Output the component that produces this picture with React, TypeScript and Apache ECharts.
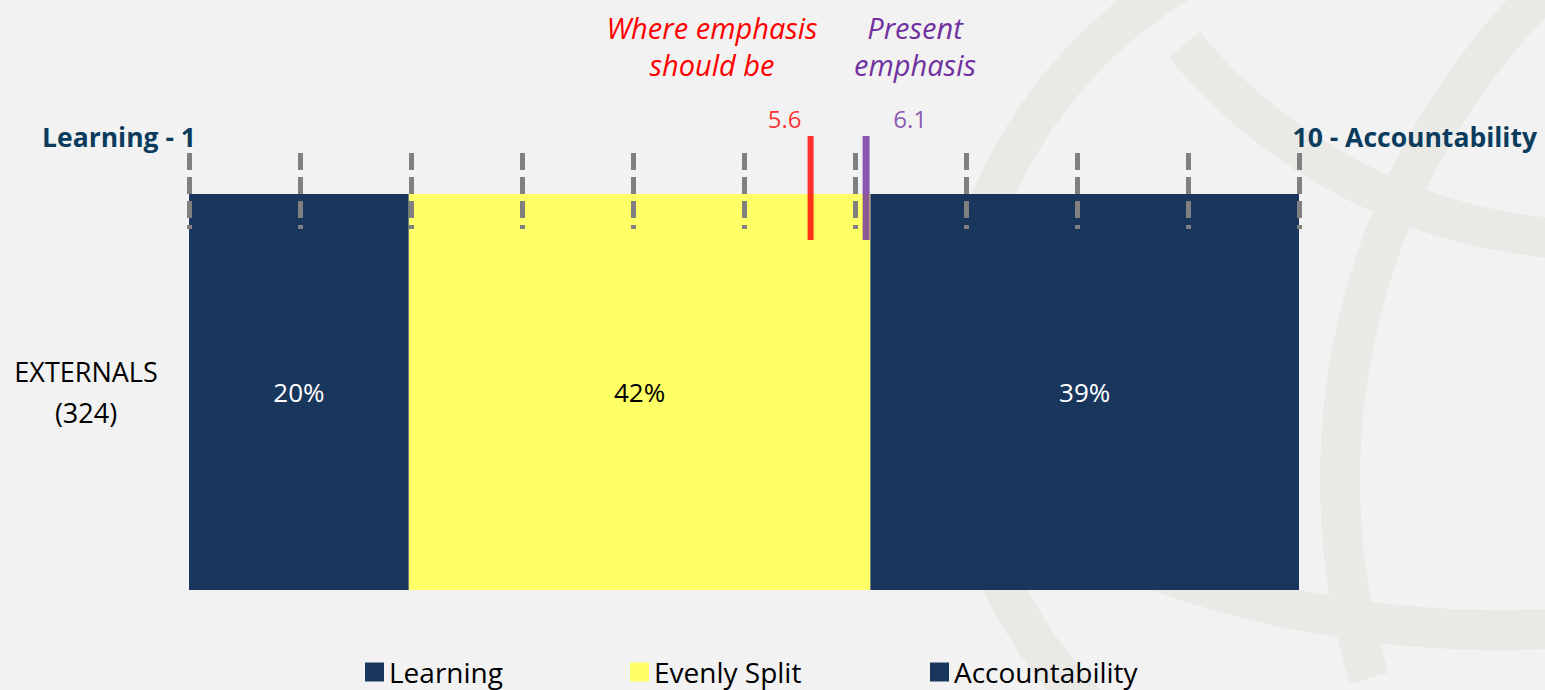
import React, { useEffect, useRef } from "react";
import * as echarts from "echarts";

const categories = ["EXTERNALS\n(324)"];
const seriesNames = ["Learning", "Evenly Split", "Accountability"];
const learning = [20];
const evenly = [42];
const accountability = [39];
const seriesColors = ["#19365d", "#ffff66", "#19365d"];
const labelColors = ["#ffffff", "#000000", "#ffffff"];
const scaleTicks = [0, 1, 2, 3, 4, 5, 6, 7, 8, 9, 10];
const markerNames = ["Where emphasis should be", "Present emphasis"];
const markerValues = [5.6, 6.1];
const markerColors = ["#ff0000", "#7030a0"];

const FONT = "'Open Sans', Lato, sans-serif";

export default function App() {
  const ref = useRef<HTMLDivElement>(null);
  useEffect(() => {
    document.body.style.margin = "0";
    const chart = echarts.init(ref.current!, null, { renderer: "svg" });
    const total = learning[0] + evenly[0] + accountability[0];
    const values = [learning, evenly, accountability];
    const gridL = 189;
    const gridR = 246;

    const barSeries = seriesNames.map((name, i) => ({
      name,
      type: "bar",
      stack: "total",
      xAxisIndex: 0,
      yAxisIndex: 0,
      barWidth: "100%",
      data: values[i],
      itemStyle: { color: seriesColors[i] },
      label: {
        show: true,
        position: "inside",
        formatter: "{c}%",
        color: labelColors[i],
        fontSize: 26,
        fontFamily: FONT,
      },
      z: 2,
    }));

    const markerSeries = markerValues.map((v, i) => ({
      name: markerNames[i],
      type: "scatter",
      xAxisIndex: 2,
      yAxisIndex: 2,
      symbol: "rect",
      symbolSize: [i === 0 ? 6 : 7, 104],
      data: [[v, 0.5]],
      itemStyle: { color: markerColors[i] },
      label: {
        show: true,
        position: "top",
        distance: 6,
        offset: [i === 0 ? -26 : 44, 0],
        formatter: String(v),
        color: markerColors[i],
        fontSize: 24,
        fontFamily: FONT,
      },
      z: 10,
    }));

    const legendLefts = [365, 630, 930];
    const band = { stroke: "#e9e9e6", lineWidth: 40, fill: "none" };

    chart.setOption({
      animation: false,
      backgroundColor: "#f2f2f2",
      grid: [
        { left: gridL, right: gridR, top: 194, bottom: 100 },
        { left: gridL, right: gridR, top: 153, height: 76 },
        { left: gridL, right: gridR, top: 136, height: 104 },
      ],
      xAxis: [
        { type: "value", gridIndex: 0, min: 0, max: total, show: false },
        {
          type: "value",
          gridIndex: 1,
          min: scaleTicks[0],
          max: scaleTicks[scaleTicks.length - 1],
          interval: 1,
          z: 5,
          axisLine: { show: false },
          axisTick: { show: false },
          axisLabel: { show: false },
          splitLine: {
            show: true,
            lineStyle: { color: "#808080", width: 5, type: [17, 7] },
          },
        },
        { type: "value", gridIndex: 2, min: 0, max: 10, show: false },
      ],
      yAxis: [
        {
          type: "category",
          gridIndex: 0,
          data: categories,
          axisLine: { show: false },
          axisTick: { show: false },
          axisLabel: {
            margin: 103,
            align: "center",
            color: "#000000",
            fontSize: 27,
            lineHeight: 41,
            fontFamily: FONT,
          },
        },
        { type: "value", gridIndex: 1, min: 0, max: 1, show: false },
        { type: "value", gridIndex: 2, min: 0, max: 1, show: false },
      ],
      legend: seriesNames.map((name, i) => ({
        data: [name],
        left: legendLefts[i],
        top: 657,
        padding: 0,
        icon: "rect",
        itemWidth: 19,
        itemHeight: 19,
        itemGap: 0,
        selectedMode: false,
        textStyle: { fontSize: 28, lineHeight: 30, color: "#000000", fontFamily: FONT },
      })),
      graphic: [
        {
          type: "arc",
          z: -10,
          silent: true,
          shape: { cx: 1420, cy: 380, r: 465, startAngle: 2.2, endAngle: 4.2 },
          style: band,
        },
        {
          type: "arc",
          z: -10,
          silent: true,
          shape: { cx: 1600, cy: -300, r: 540, startAngle: 1.55, endAngle: 2.45 },
          style: band,
        },
        {
          type: "arc",
          z: -10,
          silent: true,
          shape: { cx: 2030, cy: 480, r: 690, startAngle: 2.85, endAngle: 3.95 },
          style: band,
        },
        {
          type: "arc",
          z: -10,
          silent: true,
          shape: { cx: 1500, cy: -400, r: 1030, startAngle: 1.45, endAngle: 2.1 },
          style: band,
        },
        {
          type: "text",
          x: 42,
          y: 137,
          style: {
            text: "Learning - 1",
            fontSize: 26.5,
            fontWeight: "bold",
            fill: "#0b3c5d",
            verticalAlign: "middle",
            fontFamily: FONT,
          },
        },
        {
          type: "text",
          x: 1537,
          y: 137,
          style: {
            text: "10 - Accountability",
            fontSize: 26.5,
            fontWeight: "bold",
            fill: "#0b3c5d",
            align: "right",
            verticalAlign: "middle",
            fontFamily: FONT,
          },
        },
        {
          type: "text",
          x: 712,
          y: 46,
          style: {
            text: "Where emphasis\nshould be",
            fontSize: 29,
            fontStyle: "italic",
            fill: markerColors[0],
            align: "center",
            verticalAlign: "middle",
            lineHeight: 37,
            fontFamily: FONT,
          },
        },
        {
          type: "text",
          x: 915,
          y: 46,
          style: {
            text: "Present\nemphasis",
            fontSize: 29,
            fontStyle: "italic",
            fill: markerColors[1],
            align: "center",
            verticalAlign: "middle",
            lineHeight: 37,
            fontFamily: FONT,
          },
        },
      ],
      series: [
        ...barSeries,
        {
          type: "line",
          xAxisIndex: 1,
          yAxisIndex: 1,
          data: [],
          silent: true,
        },
        ...markerSeries,
      ],
    });
    return () => chart.dispose();
  }, []);
  return <div ref={ref} style={{ width: 1545, height: 690 }} />;
}
